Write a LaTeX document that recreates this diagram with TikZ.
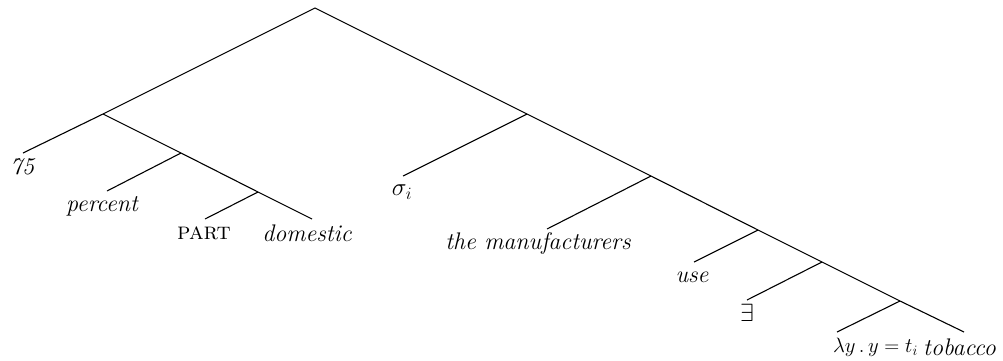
\documentclass[tikz,border=0pt]{standalone}
\usepackage{tikz}
\begin{document}
\begin{tikzpicture}[x=1pt,y=-1pt,
  edge/.style={draw=black,line width=1.1pt},
  lab/.style={inner sep=0pt,font=\fontsize{24}{28}\selectfont\itshape},
  labm/.style={inner sep=0pt,font=\fontsize{24}{28}\selectfont},
  labs/.style={inner sep=0pt,font=\fontsize{21}{25}\selectfont}]
\useasboundingbox (0,0) rectangle (1003,360);
% internal nodes
\coordinate (R) at (315,8);
\coordinate (A) at (103,114);
\coordinate (B) at (181,153);
\coordinate (C) at (258,192);
\coordinate (D) at (527,114);
\coordinate (E) at (651,176);
\coordinate (F) at (758,230);
\coordinate (G) at (822,262);
\coordinate (H) at (900,301);
% leaf ends
\coordinate (l75) at (23,153);
\coordinate (lpercent) at (107,191);
\coordinate (lpart) at (205,219);
\coordinate (ldom) at (312,219);
\coordinate (lsigma) at (403,176);
\coordinate (lman) at (547,229);
\coordinate (luse) at (694,262);
\coordinate (lex) at (747,300);
\coordinate (llam) at (837,332);
\coordinate (ltob) at (964,332);
% labels
\node[lab] (t75) at (22,167) {75};
\node[lab] (tpercent) at (102,206) {percent};
\node[labm] (tpart) at (204,233) {\textsc{part}};
\node[lab] (tdom) at (307,233) {domestic};
\node[labm] (tsigma) at (402,192) {$\sigma_i$};
\node[lab] (tman) at (538,243) {the manufacturers};
\node[lab] (tuse) at (692,277) {use};
\node[labm] (tex) at (747,313) {$\exists$};
\node[labs,anchor=east] (tlam) at (918,347) {$\lambda y\,.\,y=t_i$};
\node[lab,anchor=west] (ttob) at (923,347) {tobacco};
% edges
\draw[edge] (l75) -- (A) -- (R) -- (D) -- (E) -- (F) -- (G) -- (H) -- (ltob);
\draw[edge] (A) -- (B) -- (C) -- (ldom);
\draw[edge] (B) -- (lpercent);
\draw[edge] (C) -- (lpart);
\draw[edge] (D) -- (lsigma);
\draw[edge] (E) -- (lman);
\draw[edge] (F) -- (luse);
\draw[edge] (G) -- (lex);
\draw[edge] (H) -- (llam);
\end{tikzpicture}
\end{document}
